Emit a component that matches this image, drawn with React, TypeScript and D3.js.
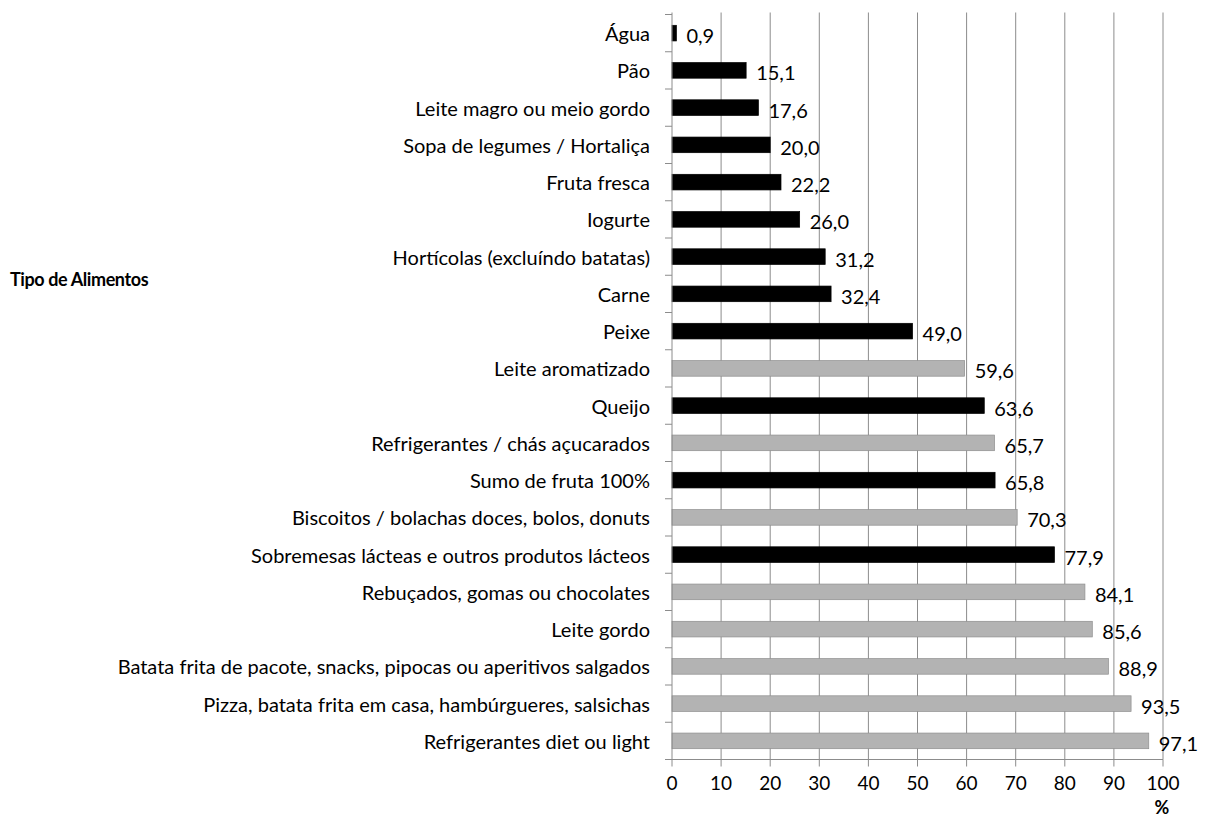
import React from "react";
import * as d3 from "d3";

const categories = [
  "Água",
  "Pão",
  "Leite magro ou meio gordo",
  "Sopa de legumes / Hortaliça",
  "Fruta fresca",
  "Iogurte",
  "Hortícolas (excluíndo batatas)",
  "Carne",
  "Peixe",
  "Leite aromatizado",
  "Queijo",
  "Refrigerantes / chás açucarados",
  "Sumo de fruta 100%",
  "Biscoitos / bolachas doces, bolos, donuts",
  "Sobremesas lácteas e outros produtos lácteos",
  "Rebuçados, gomas ou chocolates",
  "Leite gordo",
  "Batata frita de pacote, snacks, pipocas ou aperitivos salgados",
  "Pizza, batata frita em casa, hambúrgueres, salsichas",
  "Refrigerantes diet ou light",
];
const values = [0.9, 15.1, 17.6, 20.0, 22.2, 26.0, 31.2, 32.4, 49.0, 59.6, 63.6, 65.7, 65.8, 70.3, 77.9, 84.1, 85.6, 88.9, 93.5, 97.1];
const groups = ["b", "b", "b", "b", "b", "b", "b", "b", "b", "g", "b", "g", "b", "g", "b", "g", "g", "g", "g", "g"];
const xTicks = [0, 10, 20, 30, 40, 50, 60, 70, 80, 90, 100];
const yTitle = "Tipo de Alimentos";
const xTitle = "%";

const FONT = "Lato, 'Open Sans', sans-serif";

export default function App() {
  const W = 1205, H = 838;
  const x = d3.scaleLinear().domain([0, 100]).range([672, 1163]);
  const y = d3.scaleBand<string>().domain(categories).range([14.5, 759.5]).paddingInner(0.58).paddingOuter(0.29);
  const step = y.step();
  const top = 14.5, bottom = 759.5;
  const fmt = (v: number) => v.toFixed(1).replace(".", ",");
  const boundaries = d3.range(categories.length + 1).map((k) => top + k * step);

  return (
    <svg width={W} height={H} style={{ position: "absolute", left: 0, top: 0, background: "#fff" }}>
      <rect x={0} y={0} width={W} height={H} fill="#fff" />
      {xTicks.filter((t) => t > 0).map((t) => (
        <line key={"g" + t} x1={x(t)} x2={x(t)} y1={top - 2} y2={bottom} stroke="#8c8c8c" strokeWidth={1} />
      ))}
      {categories.map((c, i) => (
        <rect
          key={c}
          x={x(0)}
          y={y(c)}
          width={x(values[i]) - x(0)}
          height={y.bandwidth()}
          fill={groups[i] === "b" ? "#000" : "#b3b3b3"}
          stroke={groups[i] === "b" ? "#000" : "#8f8f8f"}
          strokeWidth={0.7}
        />
      ))}
      <line x1={x(0)} x2={x(0)} y1={top - 2} y2={bottom} stroke="#8c8c8c" strokeWidth={1} />
      {boundaries.map((b, k) => (
        <line key={"yt" + k} x1={x(0) - 7} x2={x(0)} y1={b} y2={b} stroke="#8c8c8c" strokeWidth={1} />
      ))}
      <line x1={x(0) - 7} x2={x(100)} y1={bottom} y2={bottom} stroke="#8c8c8c" strokeWidth={1} />
      {xTicks.map((t) => (
        <line key={"xt" + t} x1={x(t)} x2={x(t)} y1={bottom} y2={bottom + 7} stroke="#8c8c8c" strokeWidth={1} />
      ))}
      {xTicks.map((t) => (
        <text key={"xl" + t} x={x(t)} y={782} textAnchor="middle" dominantBaseline="central" fontFamily={FONT} fontSize={19} fill="#000">
          {t}
        </text>
      ))}
      {categories.map((c) => (
        <text key={"cl" + c} x={650} y={(y(c) as number) + y.bandwidth() / 2} textAnchor="end" dominantBaseline="central" fontFamily={FONT} fontSize={20} fill="#000">
          {c}
        </text>
      ))}
      {categories.map((c, i) => (
        <text key={"vl" + c} x={x(values[i]) + 10} y={(y(c) as number) + y.bandwidth() / 2 + 2} dominantBaseline="central" fontFamily={FONT} fontSize={20} fill="#000">
          {fmt(values[i])}
        </text>
      ))}
      <text x={10} y={279} dominantBaseline="central" fontFamily={FONT} fontSize={18} fontWeight="bold" letterSpacing={-0.4} fill="#000">
        {yTitle}
      </text>
      <text x={1162} y={807} textAnchor="middle" dominantBaseline="central" fontFamily={FONT} fontSize={18} fontWeight="bold" fill="#000">
        {xTitle}
      </text>
    </svg>
  );
}
